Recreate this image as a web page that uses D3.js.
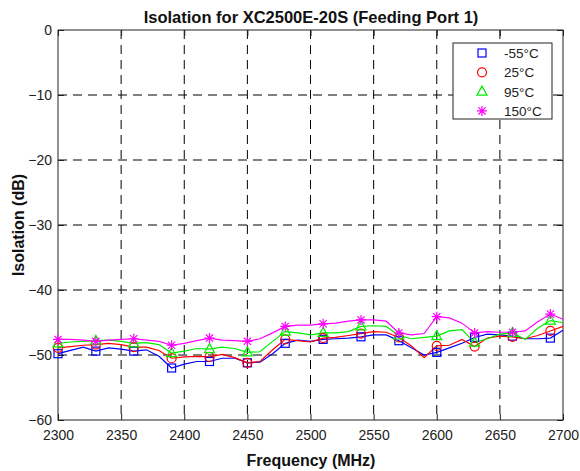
<!DOCTYPE html>
<html>
<head>
<meta charset="utf-8">
<script src="https://cdn.jsdelivr.net/npm/d3@7"></script>
<style>
  body { margin: 0; background: #fff; }
  text { font-family: "Liberation Sans", Arial, Helvetica, sans-serif; }
</style>
</head>
<body>
<svg id="chart" width="580" height="471"></svg>
<script>
const freqs = d3.range(2300, 2701, 10);
const seriesNames = ["-55°C", "25°C", "95°C", "150°C"];
const seriesColors = ["#0000ff", "#ff0000", "#00ee00", "#ff00ff"];
const seriesMarkers = ["square", "circle", "triangle", "asterisk"];
const xTicks = [2300, 2350, 2400, 2450, 2500, 2550, 2600, 2650, 2700];
const yTicks = [0, -10, -20, -30, -40, -50, -60];

const blue = [-49.8,-49.3,-48.8,-49.4,-48.9,-49.1,-49.4,-49.2,-50.2,-52.0,
  -51.4,-51.0,-51.0,-50.5,-50.5,-51.2,-51.1,-49.8,-48.2,-47.7,
  -47.9,-47.6,-47.5,-47.4,-47.2,-46.9,-46.9,-47.8,-48.9,-50.0,
  -49.6,-48.9,-48.2,-47.3,-46.8,-46.9,-47.1,-47.5,-47.5,-47.4,-46.2];
const red = [-48.9,-48.7,-48.5,-48.4,-48.2,-48.4,-48.8,-48.8,-49.3,-50.5,
  -50.3,-50.2,-50.3,-49.9,-50.4,-51.2,-51.0,-49.2,-47.6,-47.8,
  -48.0,-47.4,-47.3,-47.0,-46.7,-46.4,-46.5,-47.3,-48.6,-50.4,
  -48.6,-48.5,-47.6,-48.7,-47.4,-47.1,-47.2,-47.5,-47.0,-46.3,-45.6];
const green = [-48.2,-48.0,-47.9,-47.8,-47.7,-47.9,-48.2,-48.1,-48.4,-49.7,
  -49.4,-49.0,-49.1,-48.8,-49.0,-49.6,-49.5,-47.9,-46.4,-46.6,
  -46.9,-46.6,-46.6,-46.4,-45.6,-45.5,-45.6,-47.0,-47.5,-47.3,
  -47.1,-46.3,-46.1,-48.1,-47.5,-46.8,-46.6,-47.6,-45.9,-44.7,-45.0];
const magenta = [-47.6,-47.6,-47.7,-47.9,-47.7,-47.6,-47.5,-47.7,-47.9,-48.5,
  -48.2,-47.8,-47.4,-47.7,-47.8,-47.9,-47.5,-46.6,-45.6,-45.4,
  -45.4,-45.2,-45.1,-44.8,-44.6,-44.6,-44.8,-46.6,-46.9,-46.7,
  -44.1,-44.3,-45.1,-46.6,-46.4,-46.5,-46.5,-46.3,-44.9,-43.7,-44.5];
const seriesValues = [blue, red, green, magenta];

const svg = d3.select("#chart");
const L = 58, R = 563, T = 30, B = 420;
const x = d3.scaleLinear().domain([2300, 2700]).range([L, R]);
const y = d3.scaleLinear().domain([-60, 0]).range([B, T]);

// grid
const grid = svg.append("g");
xTicks.slice(1, -1).forEach(t => {
  grid.append("line").attr("x1", x(t)).attr("x2", x(t)).attr("y1", T).attr("y2", B)
    .attr("stroke", "#000").attr("stroke-width", 1).attr("stroke-dasharray", "9,6");
});
yTicks.slice(1, -1).forEach(t => {
  grid.append("line").attr("x1", L).attr("x2", R).attr("y1", y(t)).attr("y2", y(t))
    .attr("stroke", "#000").attr("stroke-width", 1).attr("stroke-dasharray", "9,6");
});

// axes
const xAxisB = d3.axisBottom(x).tickValues(xTicks).tickSize(-6).tickPadding(10).tickFormat(d3.format("d"));
const xAxisT = d3.axisTop(x).tickValues(xTicks).tickSize(-6).tickFormat("");
const yAxisL = d3.axisLeft(y).tickValues(yTicks).tickSize(-6).tickPadding(6).tickFormat(d3.format("d"));
const yAxisR = d3.axisRight(y).tickValues(yTicks).tickSize(-6).tickFormat("");

function styleAxis(g) {
  g.select(".domain").attr("stroke", "#222").attr("stroke-width", 1);
  g.selectAll(".tick line").attr("stroke", "#222");
  g.selectAll(".tick text").attr("fill", "#222").style("font-size", "14px")
    .style("font-family", "'Liberation Sans', Arial, sans-serif");
}
svg.append("g").attr("transform", `translate(0,${B})`).call(xAxisB).call(styleAxis);
svg.append("g").attr("transform", `translate(0,${T})`).call(xAxisT).call(styleAxis);
svg.append("g").attr("transform", `translate(${L},0)`).call(yAxisL).call(styleAxis);
svg.append("g").attr("transform", `translate(${R},0)`).call(yAxisR).call(styleAxis);
svg.selectAll(".domain").attr("d", null);
svg.append("rect").attr("x", L).attr("y", T).attr("width", R - L).attr("height", B - T)
  .attr("fill", "none").attr("stroke", "#222").attr("stroke-width", 1);

// lines
const line = d3.line().x((d, i) => x(freqs[i])).y(d => y(d));
seriesValues.forEach((vals, k) => {
  svg.append("path").datum(vals).attr("d", line)
    .attr("fill", "none").attr("stroke", seriesColors[k]).attr("stroke-width", 1.2);
});

function drawMarker(g, type, cx, cy, color) {
  if (type === "square") {
    g.append("rect").attr("x", cx - 4).attr("y", cy - 4).attr("width", 8).attr("height", 8)
      .attr("fill", "none").attr("stroke", color).attr("stroke-width", 1.2);
  } else if (type === "circle") {
    g.append("circle").attr("cx", cx).attr("cy", cy).attr("r", 4.5)
      .attr("fill", "none").attr("stroke", color).attr("stroke-width", 1.2);
  } else if (type === "triangle") {
    g.append("path").attr("d", `M${cx},${cy - 5.5}L${cx + 5},${cy + 3.5}L${cx - 5},${cy + 3.5}Z`)
      .attr("fill", "none").attr("stroke", color).attr("stroke-width", 1.2);
  } else {
    const r = 5, q = 3.6;
    g.append("path").attr("d",
      `M${cx - r},${cy}L${cx + r},${cy}M${cx},${cy - r}L${cx},${cy + r}` +
      `M${cx - q},${cy - q}L${cx + q},${cy + q}M${cx - q},${cy + q}L${cx + q},${cy - q}`)
      .attr("fill", "none").attr("stroke", color).attr("stroke-width", 1.2);
  }
}

seriesValues.forEach((vals, k) => {
  const g = svg.append("g");
  vals.forEach((v, i) => {
    if (i % 3 === 0) drawMarker(g, seriesMarkers[k], x(freqs[i]), y(v), seriesColors[k]);
  });
});

// legend
const lg = svg.append("g");
lg.append("rect").attr("x", 453).attr("y", 43).attr("width", 99).attr("height", 76)
  .attr("fill", "#fff").attr("stroke", "#222").attr("stroke-width", 1);
seriesNames.forEach((n, k) => {
  const yy = 53 + k * 19.3;
  drawMarker(lg, seriesMarkers[k], 482, yy, seriesColors[k]);
  lg.append("text").attr("x", 504).attr("y", yy + 5).text(n)
    .style("font-size", "13.5px").attr("fill", "#222");
});

// titles
svg.append("text").attr("x", 311).attr("y", 23).attr("text-anchor", "middle")
  .style("font-size", "16.5px").style("font-weight", "bold").attr("fill", "#111")
  .text("Isolation for XC2500E-20S (Feeding Port 1)");
svg.append("text").attr("x", 311).attr("y", 466).attr("text-anchor", "middle")
  .style("font-size", "16px").style("font-weight", "bold").attr("fill", "#111")
  .text("Frequency (MHz)");
svg.append("text").attr("transform", `translate(24,${(T + B) / 2}) rotate(-90)`)
  .attr("text-anchor", "middle")
  .style("font-size", "16px").style("font-weight", "bold").attr("fill", "#111")
  .text("Isolation (dB)");
</script>
</body>
</html>
